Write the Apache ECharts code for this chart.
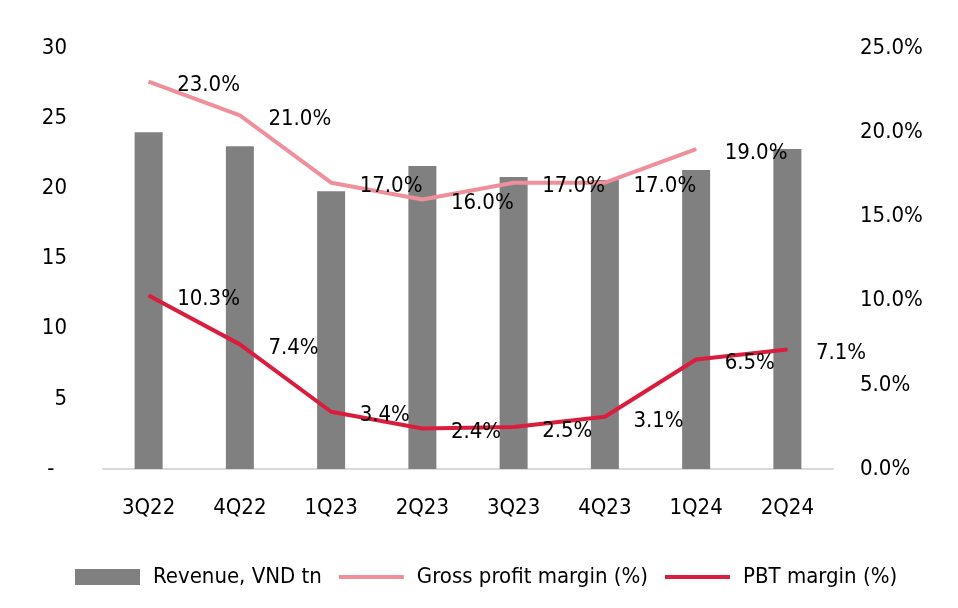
<!DOCTYPE html>
<html><head><meta charset="utf-8">
<script src="https://cdn.jsdelivr.net/npm/echarts@6/dist/echarts.min.js"></script>
<style>html,body{margin:0;padding:0;background:#fff}#c{width:958px;height:608px}</style>
</head><body><div id="c"></div>
<script>
var categories = ['3Q22','4Q22','1Q23','2Q23','3Q23','4Q23','1Q24','2Q24'];
var revenue = [24.0, 23.0, 19.8, 21.6, 20.8, 20.6, 21.3, 22.8];
var grossMargin = [23.0, 21.0, 17.0, 16.0, 17.0, 17.0, 19.0, null];
var pbtMargin = [10.3, 7.4, 3.4, 2.4, 2.5, 3.1, 6.5, 7.1];
var leftTicks = ['-', '5', '10', '15', '20', '25', '30'];
var FONT = '"DejaVu Sans Condensed", "Roboto"';
var FS = 22;
var chart = echarts.init(document.getElementById('c'));
var lbl = {show:true, position:'right', distance:28, offset:[0,4], color:'#000', fontFamily:FONT, fontSize:FS,
  formatter:function(p){return p.value==null?'':p.value.toFixed(1)+'%';}};
chart.setOption({
  animation:false,
  textStyle:{fontFamily:FONT},
  grid:{left:103, right:125, top:48, bottom:139, containLabel:false},
  legend:{left:70, top:561, itemGap:17, itemHeight:16,
    textStyle:{fontFamily:FONT, fontSize:FS, color:'#000', padding:[0,0,0,8]},
    data:[{name:'Revenue, VND tn', icon:'rect'},
          {name:'Gross profit margin (%)', icon:'path://M0,0L16,0L16,1L0,1Z'},
          {name:'PBT margin (%)', icon:'path://M0,0L16,0L16,1L0,1Z'}],
    itemWidth:65},
  xAxis:{type:'category', data:categories,
    axisLine:{lineStyle:{color:'#D9D9D9', width:2}}, axisTick:{show:false},
    axisLabel:{color:'#000', fontFamily:FONT, fontSize:FS, margin:28}},
  yAxis:[{type:'value', min:0, max:30, interval:5, splitLine:{show:false},
    axisLine:{show:false}, axisTick:{show:false},
    axisLabel:{color:'#000', fontFamily:FONT, fontSize:FS, margin:36,
      formatter:function(v){var i=Math.round(v/5); return i===0?'-  ':leftTicks[i];}}},
    {type:'value', min:0, max:25, interval:5, splitLine:{show:false},
    axisLine:{show:false}, axisTick:{show:false},
    axisLabel:{color:'#000', fontFamily:FONT, fontSize:FS, margin:27, align:'left',
      formatter:function(v){return v.toFixed(1)+'%';}}}],
  series:[
    {name:'Revenue, VND tn', type:'bar', data:revenue, barWidth:28, itemStyle:{color:'#808080'}},
    {name:'Gross profit margin (%)', type:'line', yAxisIndex:1, data:grossMargin,
      symbol:'circle', symbolSize:1, itemStyle:{color:'#EE8F9B'},
      lineStyle:{color:'#EE8F9B', width:4}, label:lbl, z:3},
    {name:'PBT margin (%)', type:'line', yAxisIndex:1, data:pbtMargin,
      symbol:'circle', symbolSize:1, itemStyle:{color:'#DA1D3D'},
      lineStyle:{color:'#DA1D3D', width:4}, label:lbl, z:4}
  ]
});
</script></body></html>
